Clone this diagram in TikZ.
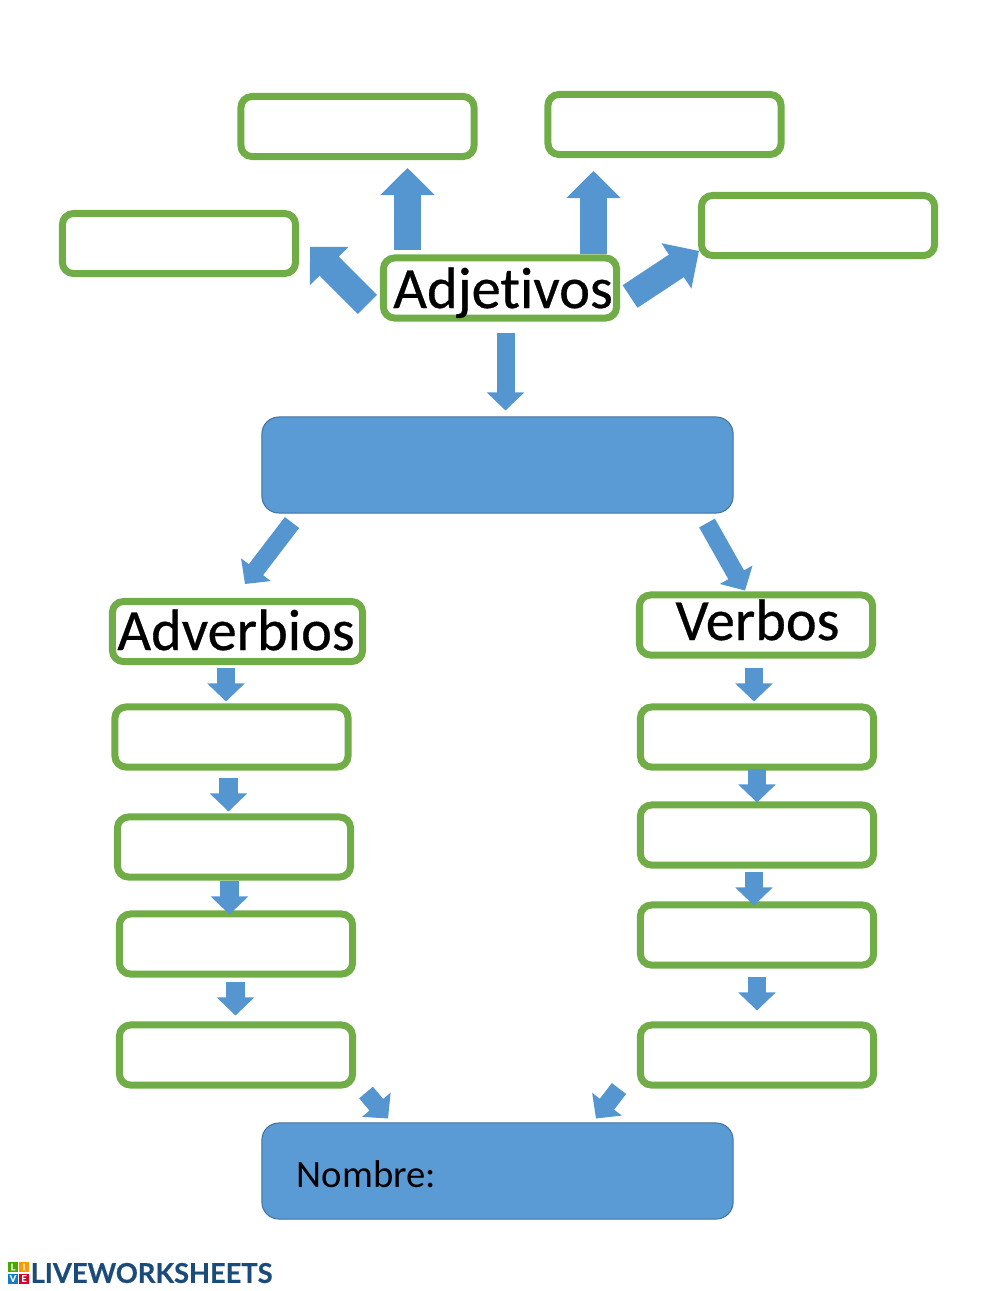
\documentclass[tikz,border=0pt]{standalone}
\usepackage{fontspec}
\setmainfont{Carlito}[Ligatures=NoCommon]
\newfontfamily\labelfont{Carlito}[Ligatures=NoCommon, FakeBold=.5]
\newfontfamily\logofont{Lato}[FakeBold=.5]
\usetikzlibrary{arrows.meta, calc}

\definecolor{boxgreen}{HTML}{70AD47}
\definecolor{fillblue}{HTML}{5B9BD5}
\definecolor{edgeblue}{HTML}{41719C}
\definecolor{arrowblue}{HTML}{5595D0}
\definecolor{logoblue}{HTML}{1B4B78}

\newcommand{\settext}[3]{\raisebox{#2}[0pt][0pt]{\makebox[0pt]{\hspace*{#1}#3}}}

\tikzset{
	greenbox/.style={draw=boxgreen, line width=.07cm, rounded corners=.11cm, fill=white,
		minimum width=2.33cm, minimum height=.60cm, inner sep=0pt},
	bluebox/.style={draw=edgeblue, line width=.01cm, rounded corners=.17cm, fill=fillblue,
		minimum width=4.71cm, minimum height=.96cm, inner sep=0pt},
	bigarrow/.style={draw=arrowblue, line width=.27cm,
		-{Triangle[length=.27cm, width=.54cm, line width=.02cm]}},
	smallarrow/.style={draw=arrowblue, line width=.18cm,
		-{Triangle[length=.18cm, width=.37cm, line width=.02cm]}},
	bigtext/.style={font=\labelfont\fontsize{16.6}{18}\selectfont},
	logotile/.style={minimum size=.1cm, inner sep=0pt, text=white,
		font=\logofont\bfseries\fontsize{2.6}{2.6}\selectfont}
}

\begin{document}
\begin{tikzpicture}[x=.01cm, y=-.01cm]
	\useasboundingbox (0,0) rectangle (1000,1291);

	% top group
	\node[greenbox] (toplefta) at (357.5,126.5) {};
	\node[greenbox] (toprightb) at (664.5,124.5) {};
	\node[greenbox] (sideleft) at (179,243.5) {};
	\node[greenbox] (sideright) at (818,225.5) {};
	\node[greenbox, bigtext] (adj) at (500,288) {\settext{.06cm}{-.20cm}{Adjetivos}};

	\node[bluebox] (middle) at (497.5,465) {};

	% the two columns
	\node[greenbox, bigtext, minimum width=2.50cm] (adv) at (237.5,631.5) {\settext{-.03cm}{-.185cm}{Adverbios}};
	\node[greenbox] (adva) at (231.5,737) {};
	\node[greenbox] (advb) at (234,847) {};
	\node[greenbox] (advc) at (236,944) {};
	\node[greenbox] (advd) at (236,1055) {};

	\node[greenbox, bigtext] (verb) at (756,625) {\settext{.03cm}{-.15cm}{Verbos}};
	\node[greenbox] (verba) at (757,737) {};
	\node[greenbox] (verbb) at (757,835) {};
	\node[greenbox] (verbc) at (757,935) {};
	\node[greenbox] (verbd) at (757,1055) {};

	\node[bluebox, font=\fontsize{11}{13}\selectfont, align=left, text width=4.01cm,
		inner xsep=.35cm] (name) at (497.5,1171) {\raisebox{-.16cm}[0pt][0pt]{Nombre:}};

	% big arrows round the top box
	\draw[bigarrow] ($(adj.north)+(-92.5,-4)$) -- ($(toplefta.south)+(50,8)$);
	\draw[bigarrow] ($(adj.north)+(93.5,0)$) -- ($(toprightb.south)+(-71,13)$);
	\draw[bigarrow] ($(adj.west)+(-12.5,16.5)$) -- ($(sideleft.east)+(11,3.5)$);
	\draw[bigarrow] ($(adj.east)+(10,8.5)$) -- ($(sideright.west)+(1,25.5)$);

	\draw[smallarrow] ($(adj.south)+(5.5,11)$) -- ($(middle.north)+(8,-6)$);
	\draw[smallarrow] ($(middle.south)+(-205.5,9)$) -- ($(adv.north)+(7.5,-14)$);
	\draw[smallarrow] ($(middle.south)+(209.5,9.5)$) -- ($(verb.north)+(-11,-1)$);

	% down the columns
	\foreach \from/\tailx/\taily/\to/\tipx/\tipy in {
		adv/-11.5/3/adva/-5.5/-2, adva/-3/7/advb/-5.5/-2,
		advb/-4.5/0/advc/-6.5/4, advc/-.5/4/advd/-.5/-6,
		verb/-2/9/verba/-3/-2, verba/0/-2/verbb/0/1,
		verbb/-3/3/verbc/-3/4, verbc/0/8/verbd/0/-11,
		advd/130/4/name/-109.5/-4, verbd/-138/0/name/98.5/-4}
		\draw[smallarrow] ($(\from.south)+(\tailx,\taily)$) -- ($(\to.north)+(\tipx,\tipy)$);

	% logo
	\node[logotile, fill=green!50!black!70!yellow] (tilel) at (13,1267) {L};
	\node[logotile, fill=orange!80!yellow] (tilei) at (24,1267) {I};
	\node[logotile, fill=cyan!60!blue] (tilev) at (13,1278.5) {V};
	\node[logotile, fill=red!85!blue] (tilee) at (24,1278.5) {E};
	\node[anchor=west, inner sep=0pt, text=logoblue, font=\logofont\bfseries\fontsize{7.75}{9}\selectfont]
		(logo) at (30,1273) {LIVEWORKSHEETS};
\end{tikzpicture}
\end{document}
